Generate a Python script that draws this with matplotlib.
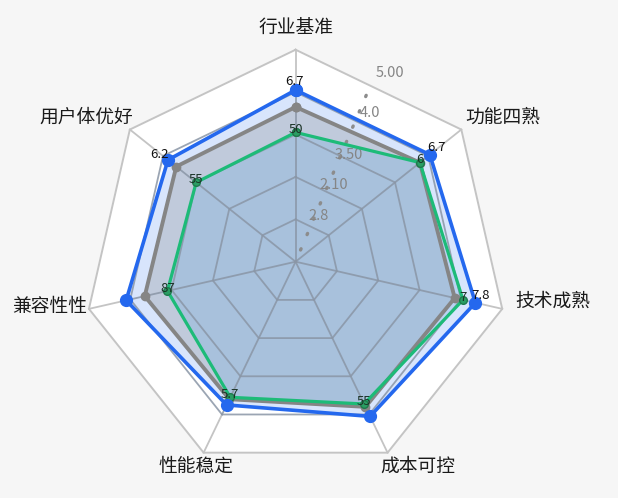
import numpy as np
import matplotlib.pyplot as plt

plt.rcParams['font.family'] = ['Noto Sans CJK SC', 'DejaVu Sans']

# data
categories = ['行业基准', '功能四熟', '技术成熟', '成本可控', '性能稳定', '兼容性性', '用户体优好']
blue_vals = [8.1, 8.1, 8.7, 8.1, 7.5, 8.2, 7.7]
gray_vals = [7.3, 7.5, 7.7, 7.6, 7.2, 7.3, 7.2]
green_vals = [6.1, 7.5, 8.1, 7.45, 7.1, 6.2, 6.0]
blue_labels = ['6.7', '6.7', '7.8', '', '', '', '6.2']
green_labels = ['50', '6', '7', '55', '5.7', '87', '55']
ring_levels = [2, 4, 6, 8, 10]
ring_texts = ['2.8', '2.10', '3.50', '4.0', '5.00']

n = len(categories)
theta = np.arange(n) * 2 * np.pi / n
theta_c = np.append(theta, theta[0])

def closed(v):
    return np.append(v, v[0])

fig = plt.figure(figsize=(6.18, 4.98), dpi=100, facecolor='#f6f6f6')
ax = fig.add_axes([0.1353, 0.0488, 0.686, 0.8514], projection='polar')
ax.set_theta_zero_location('N')
ax.set_theta_direction(-1)
ax.set_ylim(0, 10)
ax.patch.set_alpha(0)
ax.spines['polar'].set_visible(False)
ax.grid(False)
ax.set_xticks([])
ax.set_yticks([])

rmax = ring_levels[-1]
# white heptagon background + light outer grid
ax.fill(theta_c, [rmax] * (n + 1), color='white', zorder=0, clip_on=False)
ax.plot(theta_c, [rmax] * (n + 1), color='#c4c4c4', lw=1.4, zorder=0.5, clip_on=False)
for t in theta:
    ax.plot([t, t], [ring_levels[-2], rmax], color='#c4c4c4', lw=1.3, zorder=0.5, clip_on=False)

# fills
ax.fill(theta_c, closed(blue_vals), color='#2b6ff0', alpha=0.18, lw=0, zorder=1)
ax.fill(theta_c, closed(gray_vals), color='#7c7c7c', alpha=0.25, lw=0, zorder=1.1)
ax.fill(theta_c, closed(green_vals), color='#78aee0', alpha=0.32, lw=0, zorder=1.2)

# inner grid on top of fills
for lv in ring_levels[:-1]:
    ax.plot(theta_c, [lv] * (n + 1), color='#8a96a6', lw=1.3, alpha=0.85, zorder=2)
for t in theta:
    ax.plot([t, t], [0, ring_levels[-2]], color='#8a96a6', lw=1.3, alpha=0.85, zorder=2)

# dotted radial axis + labels
ang = np.deg2rad(23)
ax.plot([ang, ang], [0.6, 9.0], ls=(0, (0.4, 4.6)), lw=2.4, color='#8c8c8c',
        dash_capstyle='round', zorder=2.5)
label_r = [2.4, 4.05, 5.65, 7.85, 9.95]
for r, s in zip(label_r, ring_texts):
    ax.text(np.deg2rad(26.5), r, s, color='#858585', fontsize=10.5,
            ha='center', va='center', zorder=2.6)

# series lines
ax.plot(theta_c, closed(gray_vals), color='#858585', lw=2.8, marker='o', ms=6,
        zorder=3, clip_on=False)
ax.plot(theta_c, closed(green_vals), color='#1dbb78', lw=2.3, marker='o', ms=5.5,
        mfc='#2a9d63', mec='#1f7a4c', zorder=4, clip_on=False)
ax.plot(theta_c, closed(blue_vals), color='#2468ee', lw=2.6, marker='o', ms=8.5,
        zorder=5, clip_on=False)

# value labels
blue_off = [(-1, 6), (5, 5), (4, 5), (0, 0), (0, 0), (0, 0), (-6, 4)]
for t, v, s, o in zip(theta, blue_vals, blue_labels, blue_off):
    if s:
        ax.annotate(s, (t, v), xytext=o, textcoords='offset points', fontsize=9.5,
                    ha='center', va='center', color='#111111', zorder=6)
for t, v, s in zip(theta, green_vals, green_labels):
    ax.annotate(s, (t, v), xytext=(0, 2), textcoords='offset points', fontsize=9.5,
                ha='center', va='center', color='#1b3326', zorder=6)

# category labels (placed around the outer ring)
cat_ang = [0, 55.2, 98.8, 149.2, 206, 259.6, 304.5]
cat_r = [11.05, 11.9, 12.3, 11.25, 10.75, 11.8, 12.0]
for a, r, s in zip(cat_ang, cat_r, categories):
    ax.text(np.deg2rad(a), r, s, fontsize=13.5, ha='center', va='center', color='#1a1a1a')

fig.savefig('out.png', dpi=100, facecolor=fig.get_facecolor())
